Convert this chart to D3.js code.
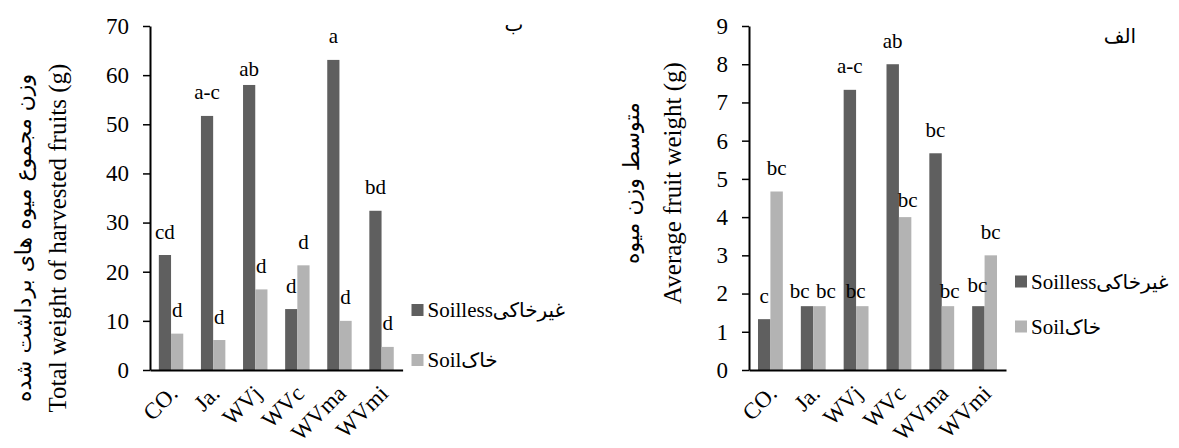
<!DOCTYPE html>
<html>
<head>
<meta charset="utf-8">
<script src="https://cdn.jsdelivr.net/npm/d3@7"></script>
<style>
  html, body { margin: 0; padding: 0; background: #fff; }
  svg { display: block; }
</style>
</head>
<body>
<svg id="chart" width="1179" height="448"></svg>
<script>
// ---------------- DATA ----------------
const categories = ["CO.", "Ja.", "WVj", "WVc", "WVma", "WVmi"];
const seriesLatin = ["Soilless", "Soil"];
const seriesPersian = ["\u063A\u06CC\u0631\u062E\u0627\u06A9\u06CC", "\u062E\u0627\u06A9"];

// Chart ب : total weight of harvested fruits (g)
const totalSoilless = [23.4, 51.7, 58.0, 12.4, 63.1, 32.4];
const totalSoil     = [7.4, 6.1, 16.4, 21.3, 10.0, 4.7];
const totalLettersSoilless = ["cd", "a-c", "ab", "d", "a", "bd"];
const totalLettersSoil     = ["d", "d", "d", "d", "d", "d"];
const totalTicks = [0, 10, 20, 30, 40, 50, 60, 70];

// Chart الف : average fruit weight (g)
const avgSoilless = [1.33, 1.67, 7.33, 8.0, 5.67, 1.67];
const avgSoil     = [4.67, 1.67, 1.67, 4.0, 1.67, 3.0];
const avgLettersSoilless = ["c", "bc", "a-c", "ab", "bc", "bc"];
const avgLettersSoil     = ["bc", "bc", "bc", "bc", "bc", "bc"];
const avgTicks = [0, 1, 2, 3, 4, 5, 6, 7, 8, 9];

const totalTitleFa = "\u0648\u0632\u0646 \u0645\u062C\u0645\u0648\u0639 \u0645\u06CC\u0648\u0647 \u0647\u0627\u06CC \u0628\u0631\u062F\u0627\u0634\u062A \u0634\u062F\u0647";
const totalTitleEn = "Total weight of harvested fruits (g)";
const avgTitleFa = "\u0645\u062A\u0648\u0633\u0637 \u0648\u0632\u0646 \u0645\u06CC\u0648\u0647";
const avgTitleEn = "Average fruit weight (g)";
const totalPanel = "\u0628";
const avgPanel = "\u0627\u0644\u0641";

// ---------------- LAYOUT / STYLE ----------------
const SERIF = "'Liberation Serif', 'Times New Roman', serif";
const ARABIC = "'DejaVu Sans', sans-serif";
const colors = ["#5f5f5f", "#b3b3b3"];
const svg = d3.select("#chart");

function drawChart(cfg) {
  const g = svg.append("g");
  const y = d3.scaleLinear().domain([0, cfg.max]).range([cfg.yBottom, cfg.yTop]);
  const x = d3.scaleBand().domain(categories).range([cfg.xLeft, cfg.xRight]).padding(0);
  const bw = x.bandwidth();
  const xs = d3.scaleBand().domain([0, 1]).range([bw * 0.21, bw * 0.79]).padding(0);

  const rows = categories.map((c, i) => ({
    cat: c,
    vals: [cfg.s0[i], cfg.s1[i]],
    labs: [cfg.l0[i], cfg.l1[i]]
  }));

  // bars
  const grp = g.selectAll("g.cat").data(rows).enter().append("g")
    .attr("transform", d => `translate(${x(d.cat)},0)`);
  grp.selectAll("rect").data(d => d.vals.map((v, k) => ({k, v})))
    .enter().append("rect")
    .attr("x", d => xs(d.k))
    .attr("width", xs.bandwidth())
    .attr("y", d => y(d.v))
    .attr("height", d => y(0) - y(d.v))
    .attr("fill", d => colors[d.k]);

  // letters
  grp.selectAll("text.lab").data(d => d.labs.map((t, k) => ({k, t, v: d.vals[k], cat: d.cat})))
    .enter().append("text")
    .attr("class", "lab")
    .attr("text-anchor", "middle")
    .attr("font-family", SERIF)
    .attr("font-size", 21)
    .attr("x", d => xs(d.k) + xs.bandwidth() / 2 + ((cfg.nudge[d.cat + d.k] || [0, 0])[0]))
    .attr("y", d => y(d.v) - 16.5 + ((cfg.nudge[d.cat + d.k] || [0, 0])[1]))
    .text(d => d.t);

  // y axis
  const yAxis = d3.axisLeft(y).tickValues(cfg.ticks).tickSizeOuter(0).tickSizeInner(7).tickPadding(14);
  const ya = g.append("g").attr("transform", `translate(${cfg.xLeft},0)`).call(yAxis);
  ya.select(".domain").attr("stroke", "#000").attr("stroke-width", 2);
  ya.selectAll(".tick line").attr("stroke", "#000").attr("stroke-width", 1.5);
  ya.selectAll(".tick text").attr("font-size", 23).attr("font-family", SERIF).attr("fill", "#000");

  // x axis
  const xAxis = d3.axisBottom(x).tickSize(0).tickPadding(0);
  const xa = g.append("g").attr("transform", `translate(0,${cfg.yBottom})`).call(xAxis);
  xa.select(".domain").attr("stroke", "#000").attr("stroke-width", 2);
  xa.selectAll(".tick text")
    .attr("font-size", 23)
    .attr("font-family", SERIF)
    .attr("fill", "#000")
    .attr("text-anchor", "end")
    .attr("dy", 0)
    .attr("transform", "translate(8,25) rotate(-45)");

  // axis titles
  const tx = g.append("g");
  tx.append("text")
    .attr("transform", `translate(${cfg.titleFaX},${cfg.titleY}) rotate(-90)`)
    .attr("text-anchor", "middle").attr("dominant-baseline", "central")
    .attr("font-size", 22).attr("font-family", ARABIC)
    .text(cfg.titleFa);
  tx.append("text")
    .attr("transform", `translate(${cfg.titleEnX},${cfg.titleY}) rotate(-90)`)
    .attr("text-anchor", "middle").attr("dominant-baseline", "central")
    .attr("font-size", 25).attr("font-family", SERIF)
    .text(cfg.titleEn);

  // legend
  const lg = g.append("g").selectAll("g").data(seriesLatin).enter().append("g")
    .attr("transform", (d, i) => `translate(${cfg.legX},${cfg.legY[i]})`);
  lg.append("rect").attr("x", 0).attr("y", -6).attr("width", 12).attr("height", 12)
    .attr("fill", (d, i) => colors[i]);
  const lt = lg.append("text").attr("x", 16).attr("dominant-baseline", "central").attr("font-size", 21);
  lt.append("tspan").attr("font-family", SERIF).text(d => d);
  lt.append("tspan").attr("font-family", ARABIC).attr("font-size", 20).text((d, i) => seriesPersian[i]);

  // panel letter
  g.append("text").attr("x", cfg.panelX).attr("y", cfg.panelY)
    .attr("text-anchor", "middle").attr("font-size", 20).attr("font-family", ARABIC)
    .text(cfg.panel);
}

drawChart({
  max: 70, ticks: totalTicks, s0: totalSoilless, s1: totalSoil,
  l0: totalLettersSoilless, l1: totalLettersSoil,
  xLeft: 150, xRight: 402.6, yBottom: 370, yTop: 26,
  nudge: {"WVj0": [0, 8]},
  titleFa: totalTitleFa, titleEn: totalTitleEn, titleFaX: 23, titleEnX: 57, titleY: 238,
  legX: 411.5, legY: [310, 360],
  panel: totalPanel, panelX: 514, panelY: 31
});

drawChart({
  max: 9, ticks: avgTicks, s0: avgSoilless, s1: avgSoil,
  l0: avgLettersSoilless, l1: avgLettersSoil,
  xLeft: 749, xRight: 1006, yBottom: 370, yTop: 26,
  nudge: {"Ja.0": [-7.5, 8.5], "Ja.1": [6.5, 8.5], "WVj1": [-6.6, 8.5], "WVc1": [2.5, 6],
          "WVma1": [1.8, 8.5], "WVmi0": [-1, 2.5]},
  titleFa: avgTitleFa, titleEn: avgTitleEn, titleFaX: 631, titleEnX: 672, titleY: 183,
  legX: 1015, legY: [281.5, 326.5],
  panel: avgPanel, panelX: 1120, panelY: 43
});
</script>
</body>
</html>
